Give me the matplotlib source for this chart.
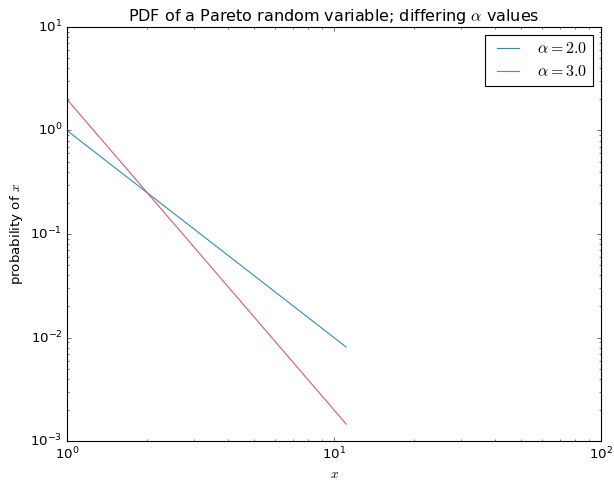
import numpy as np
import matplotlib
matplotlib.use("Agg")
import matplotlib.pyplot as plt

plt.style.use("classic")

# values (straight lines on log-log axes)
x_vals = [1.0, 11.1]
pdf_a2 = [1.0, 0.0081]
pdf_a3 = [2.0, 0.00146]
labels = [r"$\alpha=2.0$", r"$\alpha=3.0$"]
colors = ["#348ABD", "#D15B75"]

fig = plt.figure(figsize=(614/80, 481/80), dpi=80, facecolor="white")
ax = fig.add_axes([0.109, 0.083, 0.870, 0.861])

ax.loglog(x_vals, pdf_a2, color=colors[0], label=labels[0])
ax.loglog(x_vals, pdf_a3, color=colors[1], label=labels[1])

ax.set_xlim(1, 100)
ax.set_ylim(1e-3, 10)
ax.set_title(r"PDF of a Pareto random variable; differing $\alpha$ values")
ax.set_xlabel(r"$x$")
ax.set_ylabel(r"probability of $x$")
ax.legend(loc="upper right")

fig.savefig("out.png", dpi=80, facecolor="white")
